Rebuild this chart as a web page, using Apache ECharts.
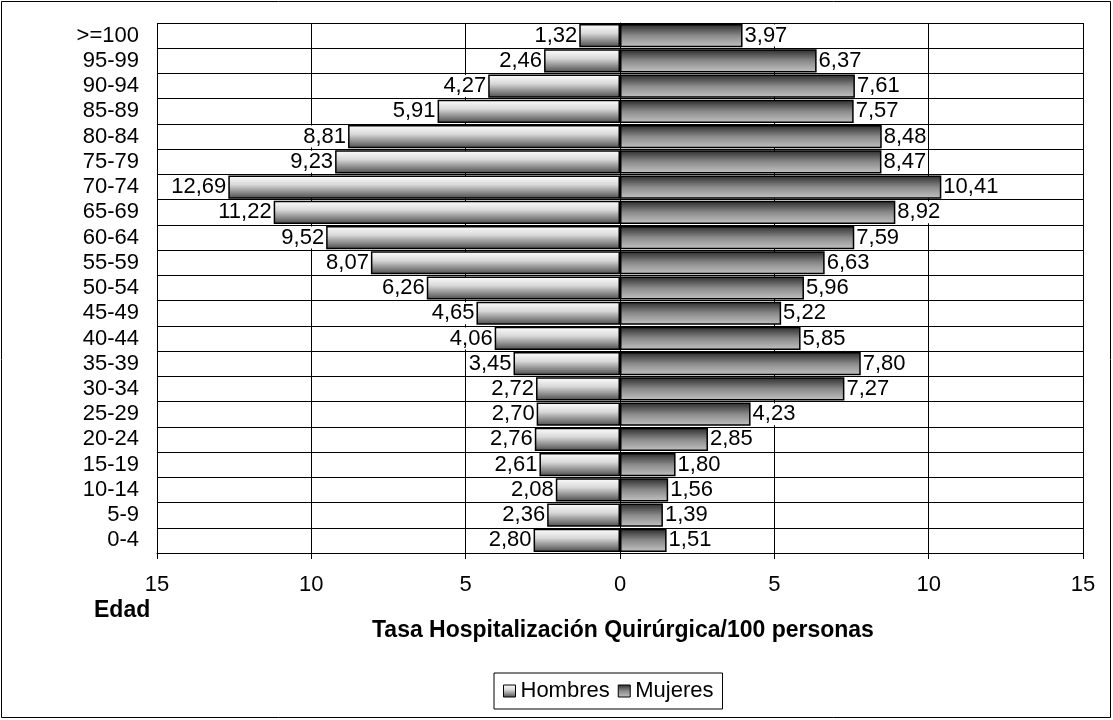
<!DOCTYPE html>
<html>
	<head>
		<meta charset="UTF-8">
		<title></title>
		<script src="https://cdn.jsdelivr.net/npm/echarts@6/dist/echarts.min.js"></script>
		<style type="text/css">
			body { margin: 0; background: #fff; }
		</style>
	</head>
	<body>
		<div id="box" style="width:1113px;height:720px;"></div>

		<script type="text/javascript">
			// grupos de edad, de abajo hacia arriba
			var edades = ['0-4', '5-9', '10-14', '15-19', '20-24', '25-29', '30-34', '35-39', '40-44', '45-49',
				'50-54', '55-59', '60-64', '65-69', '70-74', '75-79', '80-84', '85-89', '90-94', '95-99', '>=100'];
			var hombres = [2.80, 2.36, 2.08, 2.61, 2.76, 2.70, 2.72, 3.45, 4.06, 4.65,
				6.26, 8.07, 9.52, 11.22, 12.69, 9.23, 8.81, 5.91, 4.27, 2.46, 1.32];
			var mujeres = [1.51, 1.39, 1.56, 1.80, 2.85, 4.23, 7.27, 7.80, 5.85, 5.22,
				5.96, 6.63, 7.59, 8.92, 10.41, 8.47, 8.48, 7.57, 7.61, 6.37, 3.97];

			var myChart = echarts.init(document.getElementById('box'));

			function fmt(p) {
				return Math.abs(p.value).toFixed(2).replace('.', ',');
			}

			var gradH = new echarts.graphic.LinearGradient(0, 0, 0, 1, [
				{ offset: 0, color: '#ffffff' },
				{ offset: 0.4, color: '#d8d8d8' },
				{ offset: 1, color: '#4a4a4a' }
			]);
			var gradM = new echarts.graphic.LinearGradient(0, 0, 0, 1, [
				{ offset: 0, color: '#2a2a2a' },
				{ offset: 0.5, color: '#8a8a8a' },
				{ offset: 1, color: '#c4c4c4' }
			]);

			var labelBase = {
				show: true,
				formatter: fmt,
				fontFamily: 'Liberation Sans, Arial',
				fontSize: 22,
				lineHeight: 22,
				color: '#000',
				backgroundColor: '#fff',
				padding: [0, 1, 0, 1],
				distance: 1
			};

			var option = {
				animation: false,
				textStyle: { fontFamily: 'Liberation Sans, Arial' },
				graphic: [{
					type: 'rect',
					shape: { x: 1.5, y: 1.5, width: 1109, height: 716 },
					style: { fill: 'none', stroke: '#000', lineWidth: 1 },
					z: -1
				}, {
					type: 'text', left: 94, top: 599,
					style: { text: 'Edad', font: 'bold 23px Liberation Sans, Arial', fill: '#000' }
				}, {
					type: 'text', left: 372, top: 619,
					style: { text: 'Tasa Hospitalización Quirúrgica/100 personas', font: 'bold 23px Liberation Sans, Arial', fill: '#000' }
				}],
				legend: {
					data: ['Hombres', 'Mujeres'],
					top: 673,
					left: 494,
					icon: 'rect',
					borderColor: '#000',
					borderWidth: 1,
					padding: [7, 9, 7, 9],
					itemWidth: 12,
					itemHeight: 12,
					itemGap: 8,
					textStyle: { fontSize: 22, color: '#000' },
					itemStyle: { borderColor: '#000', borderWidth: 1 }
				},
				grid: { left: 157, right: 30, top: 23, bottom: 167, containLabel: false },
				xAxis: {
					type: 'value',
					min: -15,
					max: 15,
					interval: 5,
					axisLine: { show: true, lineStyle: { color: '#000' } },
					axisTick: { show: true, inside: false, length: 6, lineStyle: { color: '#000' } },
					axisLabel: {
						formatter: function (v) { return Math.abs(v); },
						fontSize: 22,
						color: '#000',
						margin: 21
					},
					splitLine: { show: true, lineStyle: { color: '#000', width: 1 } }
				},
				yAxis: {
					type: 'category',
					data: edades,
					axisLine: { show: true, lineStyle: { color: '#000' } },
					axisTick: { show: false },
					axisLabel: { interval: 0, fontSize: 22, lineHeight: 22, color: '#000', margin: 18 },
					splitLine: { show: true, interval: 0, lineStyle: { color: '#000', width: 1 } }
				},
				series: [{
					name: 'Hombres',
					type: 'bar',
					stack: 'pop',
					barCategoryGap: '8%',
					data: hombres.map(function (v) { return -v; }),
					itemStyle: { color: gradH, borderColor: '#000', borderWidth: 1.5 },
					label: Object.assign({ position: 'left' }, labelBase)
				}, {
					name: 'Mujeres',
					type: 'bar',
					stack: 'pop',
					barCategoryGap: '8%',
					data: mujeres,
					itemStyle: { color: gradM, borderColor: '#000', borderWidth: 1.5 },
					label: Object.assign({ position: 'right' }, labelBase)
				}]
			};
			myChart.setOption(option);
		</script>
	</body>
</html>
